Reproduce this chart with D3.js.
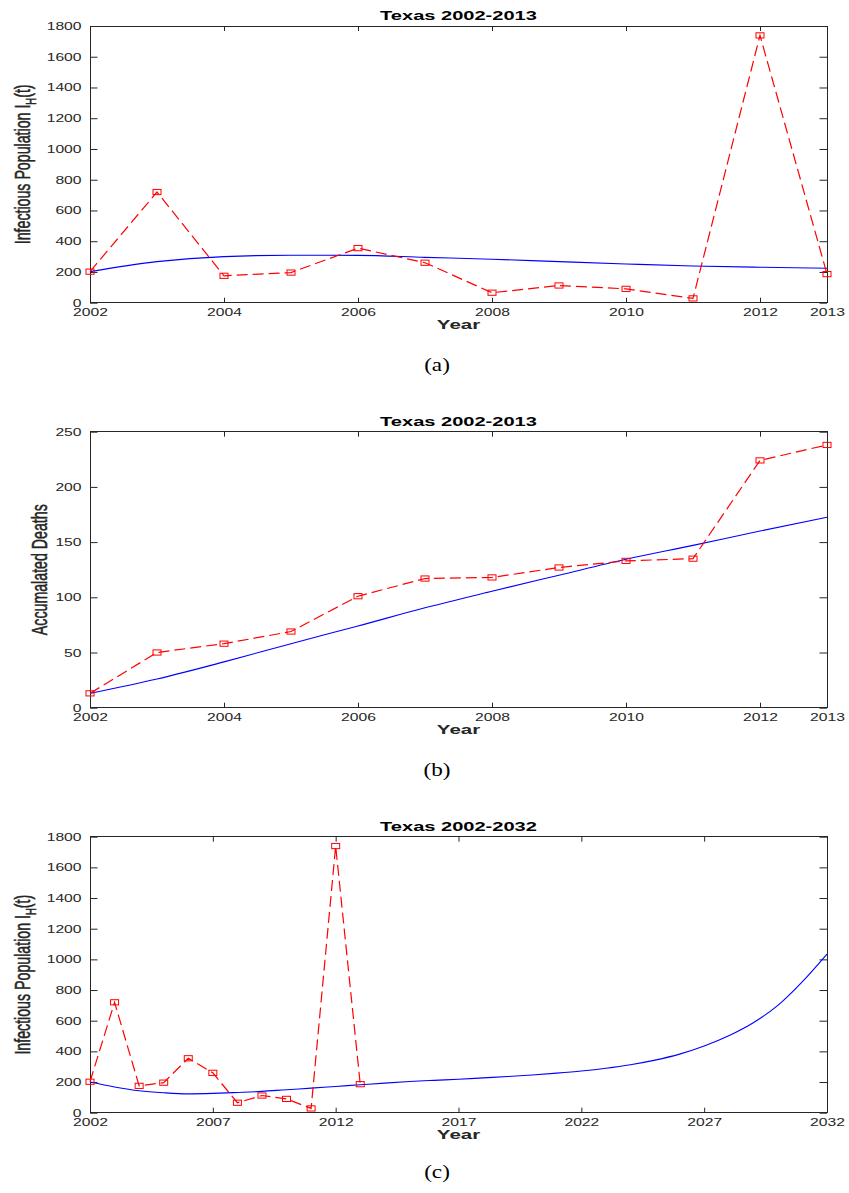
<!DOCTYPE html>
<html>
<head>
<meta charset="utf-8">
<script src="https://cdn.jsdelivr.net/npm/d3@7"></script>
<style>
  html, body { margin: 0; padding: 0; background: #fff; }
  svg { display: block; }
  text { font-family: "Liberation Sans", Arial, Helvetica, sans-serif; }
  text.caption { font-family: "Liberation Serif", "DejaVu Serif", serif; }
</style>
</head>
<body>
<svg id="fig" width="849" height="1193"></svg>
<script>
// Observed yearly data, Texas 2002-2013
const years = [2002, 2003, 2004, 2005, 2006, 2007, 2008, 2009, 2010, 2011, 2012, 2013];
const infectedObserved = [202, 720, 175, 196, 355, 260, 65, 112, 90, 28, 1739, 186];
const deathsObserved = [13, 50, 58, 69, 101, 117, 118, 127, 133, 135, 224, 238];

// Model output, 2002-2013
const infectedModel = [202, 267, 300, 309, 308, 295, 283, 267, 252, 239, 231, 224];
const deathsModel = [13, 26, 41.5, 58, 74, 90.5, 105.5, 120, 134.4, 147, 160, 172.5];

// Model projection, 2002-2032
const projYears = [2002, 2003, 2004, 2005, 2006, 2007, 2008, 2009, 2010, 2011, 2012,
  2013, 2014, 2015, 2016, 2017, 2018, 2019, 2020, 2021, 2022,
  2023, 2024, 2025, 2026, 2027, 2028, 2029, 2030, 2031, 2032];
const infectedProjection = [200, 168, 143, 130, 123, 126, 132, 139, 150, 160, 171,
  182, 193, 203, 211, 218, 227, 236, 246, 258, 272,
  290, 313, 343, 382, 435, 502, 587, 700, 855, 1035];

// Tick labels
const xTicksShort = [2002, 2004, 2006, 2008, 2010, 2012, 2013];
const xTicksLong = [2002, 2007, 2012, 2017, 2022, 2027, 2032];
const yTicksInfected = [0, 200, 400, 600, 800, 1000, 1200, 1400, 1600, 1800];
const yTicksDeaths = [0, 50, 100, 150, 200, 250];

const SX = 1.52;            // horizontal text stretch
const AXIS = "#262626";
const svg = d3.select("#fig");

const panels = [
  { title: "Texas 2002-2013", top: 26, bottom: 302.7, xDomain: [2002, 2013], xTicks: xTicksShort,
    yDomain: [0, 1800], yTicks: yTicksInfected, ylabel: "infected", ylabelX: 29.5,
    model: { x: years, y: infectedModel }, obs: { x: years, y: infectedObserved },
    caption: "(a)", captionY: 371 },
  { title: "Texas 2002-2013", top: 431.7, bottom: 707.7, xDomain: [2002, 2013], xTicks: xTicksShort,
    yDomain: [0, 250], yTicks: yTicksDeaths, ylabel: "deaths", ylabelX: 46.5,
    model: { x: years, y: deathsModel }, obs: { x: years, y: deathsObserved },
    caption: "(b)", captionY: 776 },
  { title: "Texas 2002-2032", top: 836.7, bottom: 1112.7, xDomain: [2002, 2032], xTicks: xTicksLong,
    yDomain: [0, 1800], yTicks: yTicksInfected, ylabel: "infected", ylabelX: 29.5,
    model: { x: projYears, y: infectedProjection }, obs: { x: years, y: infectedObserved },
    caption: "(c)", captionY: 1178 }
];

const left = 90, right = 827;

panels.forEach(p => {
  const x = d3.scaleLinear().domain(p.xDomain).range([left, right]);
  const y = d3.scaleLinear().domain(p.yDomain).range([p.bottom, p.top]);
  const g = svg.append("g");

  // axes: inward ticks on all four sides
  const bottomAxis = g.append("g").attr("transform", `translate(0,${p.bottom})`)
    .call(d3.axisBottom(x).tickValues(p.xTicks).tickFormat(d3.format("d"))
      .tickSizeInner(-5).tickSizeOuter(0));
  bottomAxis.selectAll("text")
    .attr("y", 13).attr("dy", null)
    .attr("transform", `scale(${SX},1)`);

  g.append("g").attr("transform", `translate(0,${p.top})`)
    .call(d3.axisTop(x).tickValues(p.xTicks).tickFormat("")
      .tickSizeInner(-5).tickSizeOuter(0));

  const leftAxis = g.append("g").attr("transform", `translate(${left},0)`)
    .call(d3.axisLeft(y).tickValues(p.yTicks).tickFormat(d3.format("d"))
      .tickSizeInner(-7.5).tickSizeOuter(0));
  leftAxis.selectAll("text")
    .attr("x", -8.5 / SX).attr("dy", "0.34em")
    .attr("transform", `scale(${SX},1)`);

  g.append("g").attr("transform", `translate(${right},0)`)
    .call(d3.axisRight(y).tickValues(p.yTicks).tickFormat("")
      .tickSizeInner(-7.5).tickSizeOuter(0));

  g.selectAll(".domain").remove();
  g.selectAll(".tick line").attr("stroke", AXIS).attr("stroke-width", 1);
  g.selectAll(".tick text").attr("fill", AXIS).attr("font-size", 10.3);

  g.append("rect")
    .attr("x", left).attr("y", p.top)
    .attr("width", right - left).attr("height", p.bottom - p.top)
    .attr("fill", "none").attr("stroke", AXIS).attr("stroke-width", 1)
    .attr("shape-rendering", "crispEdges");

  // model curve
  const modelPts = p.model.x.map((v, i) => [v, p.model.y[i]]);
  g.append("path")
    .datum(modelPts)
    .attr("fill", "none").attr("stroke", "#0000ff").attr("stroke-width", 1.1)
    .attr("d", d3.line().x(d => x(d[0])).y(d => y(d[1])).curve(d3.curveMonotoneX));

  // observed data: dashed red line with square markers
  const obsPts = p.obs.x.map((v, i) => [v, p.obs.y[i]]);
  g.append("path")
    .datum(obsPts)
    .attr("fill", "none").attr("stroke", "#ff0000").attr("stroke-width", 1.2)
    .attr("stroke-dasharray", "11,5")
    .attr("d", d3.line().x(d => x(d[0])).y(d => y(d[1])));
  g.selectAll("rect.mk").data(obsPts).enter().append("rect")
    .attr("class", "mk")
    .attr("x", d => x(d[0]) - 4).attr("y", d => y(d[1]) - 2.6)
    .attr("width", 8).attr("height", 5.2)
    .attr("fill", "none").attr("stroke", "#ff0000").attr("stroke-width", 1);

  // title
  g.append("text")
    .attr("transform", `translate(${(left + right) / 2},${p.top - 6}) scale(${SX},1)`)
    .attr("text-anchor", "middle").attr("font-size", 13.2).attr("font-weight", "bold")
    .attr("fill", "#000").text(p.title);

  // x label
  g.append("text")
    .attr("transform", `translate(${(left + right) / 2},${p.bottom + 26}) scale(${SX},1)`)
    .attr("text-anchor", "middle").attr("font-size", 13.5).attr("font-weight", "bold")
    .attr("fill", AXIS).text("Year");

  // y label
  const yl = g.append("text")
    .attr("transform", `translate(${p.ylabelX},${(p.top + p.bottom) / 2}) scale(${SX},1) rotate(-90)`)
    .attr("text-anchor", "middle").attr("font-size", 14.2).attr("fill", AXIS)
    .attr("stroke", AXIS).attr("stroke-width", 0.35);
  if (p.ylabel === "infected") {
    yl.append("tspan").text("Infectious Population I");
    yl.append("tspan").attr("font-size", 9.5).attr("dy", 4).text("H");
    yl.append("tspan").attr("dy", -4).text("(t)");
  } else {
    yl.text("Accumalated Deaths");
  }

  // caption
  svg.append("text")
    .attr("class", "caption")
    .attr("transform", `translate(437,${p.captionY}) scale(1.22,1)`)
    .attr("text-anchor", "middle")
    .attr("font-size", 19).attr("fill", "#000").text(p.caption);
});
</script>
</body>
</html>
